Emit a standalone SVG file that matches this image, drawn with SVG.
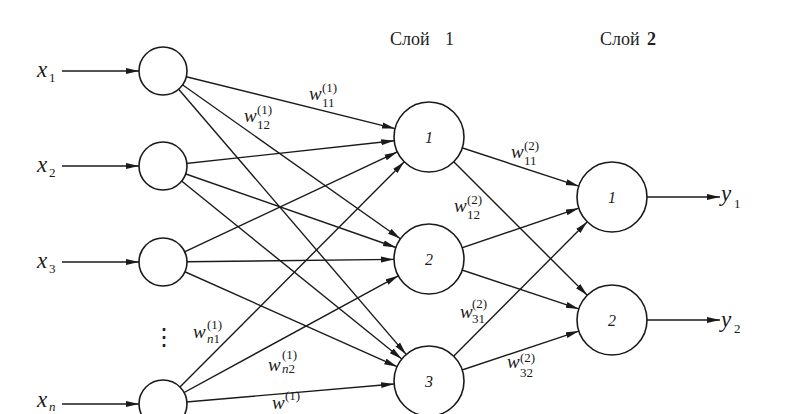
<svg xmlns="http://www.w3.org/2000/svg" width="789" height="414" viewBox="0 0 789 414">
<style>
  .edge { stroke:#1a1a1a; stroke-width:1.4; fill:none; marker-end:url(#arr); }
  .node { fill:#fff; stroke:#1a1a1a; stroke-width:1.6; }
  .var { font-style:italic; font-size:23px; }
  .w { font-style:italic; font-size:19px; }
  .idx { font-size:13px; }
  .lbl { font-style:italic; font-size:16px; text-anchor:middle; }
  .title { font-size:18px; fill:#222; }
</style>
<defs>
  <marker id="arr" markerUnits="userSpaceOnUse" markerWidth="14" markerHeight="8" refX="13" refY="3.5" orient="auto">
    <path d="M0,0.5 L13,3.5 L0,6.5 z" fill="#1a1a1a"/>
  </marker>
</defs>
<rect width="789" height="414" fill="#fff"/>

<g id="titles" font-family="Liberation Serif, serif" fill="#222">
  <text class="title" x="390" y="45">Слой<tspan x="445">1</tspan></text>
  <text class="title" x="600" y="45">Слой<tspan x="647" font-weight="bold">2</tspan></text>
</g>

<g id="connectors">
  <line class="edge" x1="62" y1="71" x2="139" y2="71"/>
  <line class="edge" x1="62" y1="166" x2="139" y2="166"/>
  <line class="edge" x1="62" y1="262" x2="139" y2="262"/>
  <line class="edge" x1="62" y1="404" x2="139" y2="404"/>
  <line class="edge" x1="163" y1="71" x2="395.0" y2="128.6"/>
  <line class="edge" x1="163" y1="71" x2="400.4" y2="238.8"/>
  <line class="edge" x1="163" y1="71" x2="406.2" y2="354.4"/>
  <line class="edge" x1="163" y1="166" x2="394.2" y2="140.8"/>
  <line class="edge" x1="163" y1="166" x2="396.0" y2="247.5"/>
  <line class="edge" x1="163" y1="166" x2="401.8" y2="359.0"/>
  <line class="edge" x1="163" y1="262" x2="397.3" y2="151.9"/>
  <line class="edge" x1="163" y1="262" x2="394.0" y2="259.4"/>
  <line class="edge" x1="163" y1="262" x2="397.1" y2="366.7"/>
  <line class="edge" x1="163" y1="404" x2="404.3" y2="161.8"/>
  <line class="edge" x1="163" y1="404" x2="398.3" y2="275.8"/>
  <line class="edge" x1="163" y1="404" x2="394.1" y2="384.0"/>
  <line class="edge" x1="429" y1="137" x2="578.7" y2="186.1"/>
  <line class="edge" x1="429" y1="137" x2="587.3" y2="295.3"/>
  <line class="edge" x1="429" y1="259" x2="578.8" y2="208.2"/>
  <line class="edge" x1="429" y1="259" x2="578.8" y2="308.9"/>
  <line class="edge" x1="429" y1="381" x2="587.3" y2="221.8"/>
  <line class="edge" x1="429" y1="381" x2="578.8" y2="331.1"/>
  <line class="edge" x1="647" y1="197" x2="720" y2="197"/>
  <line class="edge" x1="647" y1="320" x2="720" y2="320"/>
</g>

<g font-family="Liberation Serif, serif" fill="#1a1a1a">
<g id="in1"><circle class="node" cx="163" cy="71" r="24"/></g>
<g id="in2"><circle class="node" cx="163" cy="166" r="24"/></g>
<g id="in3"><circle class="node" cx="163" cy="262" r="24"/></g>
<g id="inN"><circle class="node" cx="163" cy="404" r="24"/></g>
<g id="h1"><circle class="node" cx="429" cy="137" r="35"/><text class="lbl" x="429" y="143">1</text></g>
<g id="h2"><circle class="node" cx="429" cy="259" r="35"/><text class="lbl" x="429" y="265">2</text></g>
<g id="h3"><circle class="node" cx="429" cy="381" r="35"/><text class="lbl" x="429" y="387">3</text></g>
<g id="o1"><circle class="node" cx="612" cy="197" r="35"/><text class="lbl" x="612" y="203">1</text></g>
<g id="o2"><circle class="node" cx="612" cy="320" r="35"/><text class="lbl" x="612" y="326">2</text></g>

<g id="input-labels">
  <text class="var" x="37" y="77">x</text><text class="idx" x="49" y="82">1</text>
  <text class="var" x="37" y="172">x</text><text class="idx" x="49" y="177">2</text>
  <text class="var" x="37" y="268">x</text><text class="idx" x="49" y="273">3</text>
  <text class="var" x="37" y="407">x</text><text class="idx" x="49" y="411" font-style="italic">n</text>
  <text x="164" y="345" font-size="24" text-anchor="middle" font-family="DejaVu Sans, sans-serif">⋮</text>
</g>

<g id="output-labels">
  <text class="var" x="721" y="201">y</text><text class="idx" x="734" y="208">1</text>
  <text class="var" x="721" y="327">y</text><text class="idx" x="734" y="333">2</text>
</g>

<g id="weights">
  <text class="w" x="309" y="100">w</text><text class="idx" x="322" y="92">(1)</text><text class="idx" x="322" y="107">11</text>
  <text class="w" x="244" y="122">w</text><text class="idx" x="257" y="114">(1)</text><text class="idx" x="257" y="129">12</text>
  <text class="w" x="193" y="338">w</text><text class="idx" x="207" y="329">(1)</text><text class="idx" x="207" y="343"><tspan font-style="italic">n</tspan>1</text>
  <text class="w" x="268" y="371">w</text><text class="idx" x="282" y="359">(1)</text><text class="idx" x="282" y="373"><tspan font-style="italic">n</tspan>2</text>
  <text class="w" x="272" y="409">w</text><text class="idx" x="285" y="400">(1)</text>
  <text class="w" x="511" y="158">w</text><text class="idx" x="524" y="150">(2)</text><text class="idx" x="524" y="165">11</text>
  <text class="w" x="454" y="212">w</text><text class="idx" x="467" y="204">(2)</text><text class="idx" x="467" y="219">12</text>
  <text class="w" x="460" y="318">w</text><text class="idx" x="472" y="308">(2)</text><text class="idx" x="472" y="323">31</text>
  <text class="w" x="507" y="368">w</text><text class="idx" x="520" y="362">(2)</text><text class="idx" x="520" y="377">32</text>
</g>
</g>
</svg>
